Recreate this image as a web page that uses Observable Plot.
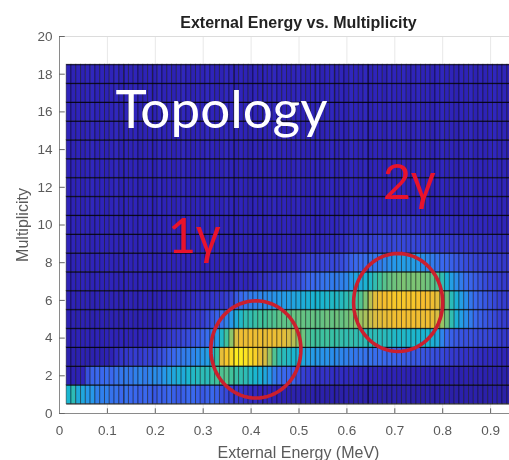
<!DOCTYPE html>
<html><head><meta charset="utf-8">
<script src="https://cdn.jsdelivr.net/npm/d3@7"></script>
<script src="https://cdn.jsdelivr.net/npm/@observablehq/plot@0.6"></script>
<style>
@font-face{font-family:"GammaMix";src:local("Liberation Sans");unicode-range:U+03B3}
html,body{margin:0;padding:0;background:#fff}svg{display:block;filter:blur(.45px)}
</style>
</head><body><div id="c"></div>
<script>
const binStart = 0.015, binWidth = 0.01;
const row1 = [5,5.5,4.6,4.5,4,4,3.5,3.5,3.5,3.2, 3.2,3,3.2,3,3,2.8,3,2.8,2.6,2.8, 2.8,3,2.8,2.6,2.8,3,3,2.8,2.6,2.8, 3,2.8,2.4,2.2,2,1.8,1.6,1.4,1.2,1.2, 1,1,1,.9,.8,.8,.7,.7,.7,.6, .6,.6,.5,.6,.5,.6,.5,.5,.6,.5, .5,.6,.5,.5,.6,.5,.5,.5,.6,.5, .5,.6,.5,.5,.5,.6,.5,.5,.6,.5, .5,.5,.6,.5,.5,.6,.5,.5,.5,.6, .5,.5,.5];
const row2 = [.8,.8,.8,1,2.4,2.9,3,3,3.1,3, 3.2,3.3,3.4,3.3,3.5,3.6,3.4,3.6,3.8,3.7, 4,4.3,4.5,4.8,4.6,5,5.2,5.3,5.5,5.4, 5.8,6,6.2,6.3,6,5.8,5.6,5.5,5.2,5, 4.8,4.5,4,3.4,3.1,3,2.9,2.8,2.4,2, 1.8,1.7,1.6,1.5,1.5,1.4,1.3,1.3,1.2,1.2, 1.1,1,1,1,.9,1,.9,.9,.9,.8, .9,.8,.9,.8,.8,.8,.9,.8,.8,.7, .8,.8,.7,.8,.7,.7,.8,.7,.7,.7, .7,.6,.7];
const row3 = [.7,.7,.7,.8,.7,.7,.8,.7,.8,.9, 1.3,1.6,1.7,1.8,1.9,1.8,2,2,2.1,2.3, 2.5,2.8,3,3.2,3.4,3.5,3.6,3.8,4,4.2, 5,5.8,8.5,9.2,9.6,10,10,9.8,9.6,9.4, 8.6,8,7.2,6.2,5.6,5.4,5.2,5,4.8,4.5, 4.2,4.1,4,3.9,3.9,3.8,3.7,3.6,3.5,3.4, 3.3,3.3,3.2,3.2,3.1,3.1,3,3,2.9,2.8, 2.7,2.7,2.6,2.6,2.5,2.4,2.4,2.3,2.2,2, 1.8,1.7,1.6,1.5,1.5,1.4,1.3,1.2,1.2,1.1, 1.1,1,1];
const row4 = [.8,.8,.9,.8,.9,.8,.9,.8,.9,1, .9,1,1,.9,1,1,1,1.1,1.2,1.3, 1.5,1.7,1.9,2,2.2,2.3,2.5,2.7,2.9,3.1, 3.5,4,5.2,6,7,8.2,8.8,8.7,8.9,8.7, 8.8,8.6,8.8,8.7,8.6,8.4,8,7.6,7,6.6, 6.2,6,6,5.9,6,5.8,5.8,5.7,5.6,5.7, 5.6,5.5,5.5,5.4,5.5,5.4,5.4,5.3,5.2,5.1, 5.2,5,5.1,5,4.9,5,4.8,4.6,3.6,3, 2.8,2.6,2.5,2.4,2.4,2.3,2.2,2.2,2.1,2, 1.8,1.7,1.6];
const row5 = [.8,.8,.7,.8,.8,.7,.8,.8,.7,.8, .8,.7,.8,.8,.7,.8,.8,.7,.8,.9, 1,1.1,1.2,1.3,1.4,1.5,1.6,1.7,1.9,2.2, 2.5,2.8,3.1,3.5,4,4.6,5.2,5.6,5.6,5.8, 6,6,6.2,6.2,6.4,6.4,6.4,6.5,6.5,6.5, 6.4,6.5,6.4,6.5,6.6,6.5,6.6,6.5,6.6,6.8, 7,7.2,7.4,7.8,8.2,8.4,8.6,8.7,8.8,8.8, 8.9,8.8,8.9,8.8,8.7,8.8,8.6,8,7.2,6.6, 5.6,4.8,4.2,3.8,3.4,3,2.8,2.6,2.4,2.2, 2,1.9,1.8];
const row6 = [.9,.9,.8,.9,.9,.8,.9,.9,.8,.9, .9,.8,.9,.9,.8,.9,.9,.8,.9,.9, .9,1,.9,1,1.1,1.2,1.3,1.4,1.5,1.5, 1.6,1.6,1.7,1.9,2.2,2.6,3,3.2,3.4,3.5, 3.6,3.7,3.8,3.9,4,4.1,4.2,4.4,4.5,4.7, 4.8,4.9,5,5,5.1,5.2,5.2,5.3,5.5,5.7, 6,6.2,6.8,7.6,8.4,8.8,9,9.1,9.2,9.2, 9.2,9.1,9.2,9.1,9,8.9,8.8,8.4,7.8,6.6, 5.4,4.8,4.2,3.8,3.3,3,2.8,2.6,2.4,2.2, 2,1.9,1.8];
const row7 = [.9,.9,.9,1,.9,.9,1,.9,.9,1, .9,.9,1,.9,.9,1,.9,.9,1,.9, .9,1,.9,1,1,.9,1,1,.9,1, 1,.9,1,1,.9,1,1.1,1,1.1,1.2, 1.4,1.5,1.6,1.7,1.8,1.9,2,2.1,2.2,2.6, 2.9,3,3.1,3.2,3.3,3.4,3.4,3.5,3.6,4, 4.4,4.6,4.9,5.2,5.6,6,6.3,6.5,6.6,6.7, 6.8,6.7,6.8,6.8,6.7,6.6,6.4,6.2,5.6,4.8, 4.2,3.8,3.4,3.1,2.9,2.7,2.5,2.3,2.1,2, 1.9,1.8,1.7];
const row8 = [1,.9,1,1,.9,1,1,.9,1,1, .9,1,1,.9,1,1,.9,1,1,.9, 1,1,.9,1,1,.9,1,1,.9,1, 1,.9,1,1,.9,1,1,.9,1,1, 1,1,1.1,1,1.1,1.1,1.2,1.2,1.4,1.8, 1.9,2,2,2.1,2.1,2.2,2.2,2.3,2.5,2.8, 3,3,3.1,3.2,3.3,3.4,3.6,3.8,4,4.1, 4.2,4.1,4.2,4,3.8,3.6,3.4,3.2,3,2.9, 2.8,2.6,2.5,2.3,2.2,2.1,2,2,1.9,1.8, 1.8,1.7,1.7];
const row9 = [1,1,.9,1,1,.9,1,1,.9,1, 1,.9,1,1,.9,1,1,.9,1,1, .9,1,1,.9,1,1,.9,1,1,.9, 1,1,.9,1,1,.9,1,1,.9,1, 1,.9,1,1,.9,1,1,.9,1,1, 1.1,1.1,1.2,1.2,1.2,1.3,1.3,1.4,1.5,1.7, 1.8,1.9,1.9,2,2,2.1,2.1,2.1,2.2,2.2, 2.2,2.1,2.2,2.1,2.1,2,2,1.9,1.9,1.8, 1.7,1.7,1.6,1.6,1.5,1.5,1.5,1.4,1.4,1.4, 1.3,1.3,1.3];
const row10 = [1,1,.9,1,1,.9,1,1,.9,1, 1,.9,1,1,.9,1,1,.9,1,1, .9,1,1,.9,1,1,.9,1,1,.9, 1,1,.9,1,1,.9,1,1,.9,1, 1,.9,1,1,.9,1,1,.9,1,1, 1,1,1,1,1.1,1.1,1.1,1.2,1.2,1.3, 1.4,1.4,1.5,1.5,1.5,1.6,1.6,1.6,1.6,1.6, 1.6,1.6,1.6,1.5,1.5,1.5,1.4,1.4,1.3,1.3, 1.3,1.2,1.2,1.2,1.1,1.1,1.1,1.1,1,1, 1,1,1];
const upperRow = [1,.9,1,.8,1,1.1,.9,1,.8,1, 1.1,.8,1,.9,1,.7,.9,1,.8,1.1, .9,1,.8,1,1.1,.9,.8,1,.9,1.1, 1,.8,.9,1.1,1,.8,1,.9,.7,1, .8,1,.9,1.1,.9,1,.8,1,1.1,.9, .8,1,1.1,.8,1,1.1,.9,1,.8,1.1, 1,.9,1.1,.8,1,1,.8,1.1,1,.9, 1.1,.8,1,1.1,.9,1,.8,1,1.1,.9, 1,.8,1,.9,1.1,.8,1,.9,1,1.1, .9,1,.8];
const rows = [row1,row2,row3,row4,row5,row6,row7,row8,row9,row10,upperRow,upperRow,upperRow,upperRow,upperRow,upperRow,upperRow,upperRow];
const colorStops = ["#261c96","#2f24ba","#3640d4","#3a68ee","#2698ea","#1ab6d0","#40c29c","#8cc46a","#d6be44","#f6be2e","#fdec20"];
const xTicks = [0,.1,.2,.3,.4,.5,.6,.7,.8,.9];
const yTicks = [0,2,4,6,8,10,12,14,16,18,20];
const rowEdges = d3.range(0.5,19,1);
const darkColumns = [.135,.195,.365,.425,.535,.575,.645];
const rings = [{cx:.41,cy:3.4,rx:.094,ry:2.58},{cx:.707,cy:5.89,rx:.093,ry:2.6}];
const labels = [
 {t:"Topology",x:.117,y:16.05,fill:"#fff",size:53},
 {t:"1γ",x:.226,y:9.35,fill:"#e8132c",size:49},
 {t:"2γ",x:.675,y:12.2,fill:"#e8132c",size:49}
];
const cells = rows.flatMap((r,i)=>r.map((v,j)=>({m:i+1,e1:binStart+j*binWidth,e2:binStart+(j+1)*binWidth,v})));
const ringPts = rings.flatMap((r,k)=>d3.range(0,361,5).map(a=>({k,x:r.cx+r.rx*Math.cos(a*Math.PI/180),y:r.cy+r.ry*Math.sin(a*Math.PI/180)})));
const txt="#5a5a5a", font="Liberation Sans";
const chart = Plot.plot({
 width:509,height:460,marginLeft:59,marginRight:0,marginTop:36,marginBottom:47,
 style:{fontFamily:font,background:"#fff"},
 x:{domain:[0,450/479],axis:null},
 y:{domain:[0,20],axis:null},
 color:{type:"linear",domain:d3.range(0,11),range:colorStops,interpolate:"rgb"},
 marks:[
  Plot.ruleX(xTicks.slice(1),{y1:0,y2:20,stroke:"#e8e8e8",strokeWidth:1}),
  Plot.ruleY([20],{stroke:"#dcdcdc"}),
  Plot.rect(cells,{x1:"e1",x2:"e2",y1:d=>d.m-.5,y2:d=>d.m+.5,fill:"v",stroke:"#000",strokeWidth:1,strokeOpacity:.42}),
  Plot.ruleX(darkColumns,{y1:.5,y2:18.5,stroke:"#000",strokeWidth:1,strokeOpacity:.4}),
  Plot.ruleY(rowEdges,{x1:binStart,x2:450/479,stroke:"#000",strokeWidth:1,strokeOpacity:.75}),
  Plot.ruleY([0],{stroke:"#8a8a8a"}),
  Plot.ruleX([0],{stroke:"#8a8a8a"}),
  Plot.ruleX(xTicks.slice(1),{y1:0,y2:.25,stroke:"#666"}),
  Plot.ruleY(yTicks,{x1:0,x2:.012,stroke:"#666"}),
  Plot.line(ringPts,{x:"x",y:"y",z:"k",stroke:"#cb1f2e",strokeWidth:3.6}),
  Plot.text(labels,{x:"x",y:"y",text:"t",fill:"fill",fontSize:"size",textAnchor:"start",fontFamily:"GammaMix, Lato"}),
  Plot.text(xTicks,{x:d=>d,y:0,text:d=>String(d),dy:17,fill:txt,fontSize:13.5}),
  Plot.text(yTicks,{x:0,y:d=>d,text:String,dx:-7,textAnchor:"end",fill:txt,fontSize:13.5}),
  Plot.text(["External Energy vs. Multiplicity"],{frameAnchor:"top",lineAnchor:"middle",dx:14,dy:-14,fontWeight:"bold",fontSize:16,fill:"#222"}),
  Plot.text(["External Energy (MeV)"],{frameAnchor:"bottom",lineAnchor:"middle",dx:14,dy:39,fontSize:16,fill:txt}),
  Plot.text(["Multiplicity"],{frameAnchor:"left",textAnchor:"middle",lineAnchor:"middle",rotate:-90,dx:-37,fontSize:16,fill:txt})
 ]
});
document.getElementById("c").append(chart);
</script></body></html>
